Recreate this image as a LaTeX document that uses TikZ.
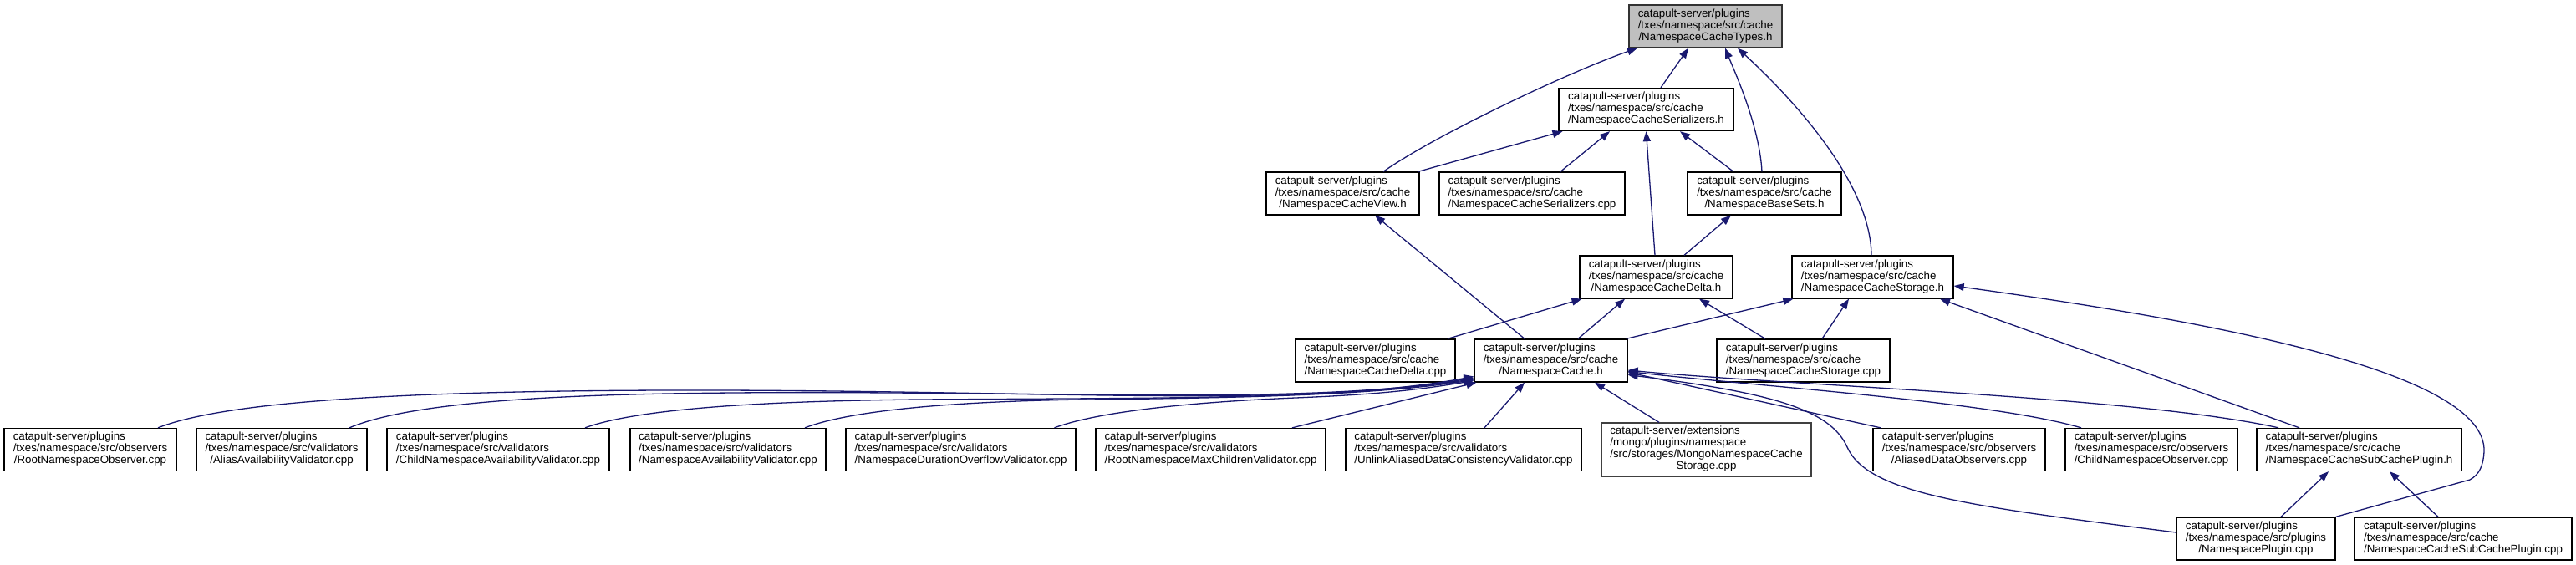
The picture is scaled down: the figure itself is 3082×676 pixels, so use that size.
\documentclass[tikz,border=0pt]{standalone}
\usepackage{fontspec}
\setmainfont{Liberation Sans}
\usetikzlibrary{arrows.meta}
\definecolor{edgeblue}{HTML}{191970}
\definecolor{rootfill}{HTML}{BFBFBF}
\newcommand{\lbthree}[3]{\begin{tabular}{@{}l@{}}#1\\#2\\\multicolumn{1}{@{}c@{}}{#3}\end{tabular}}
\newcommand{\lbfour}[4]{\begin{tabular}{@{}l@{}}#1\\#2\\#3\\\multicolumn{1}{@{}c@{}}{#4}\end{tabular}}
\tikzset{
  box/.style={draw=black, line width=1.3pt, fill=white, inner sep=0pt, minimum height=51pt,
    font={\fontsize{13.33}{14}\selectfont}},
  rootbox/.style={box, fill=rootfill, draw=black!80},
  dep/.style={draw=edgeblue, line width=1.3pt, arrows={Triangle[length=12pt,width=9pt]-}},
}
\begin{document}
\begin{tikzpicture}[x=1pt,y=-1pt]
\useasboundingbox (0,0) rectangle (3082,676);
% row 0
\node[rootbox, minimum width=183pt] (types) at (2040.5,31.5) {\lbthree{catapult-server/plugins}{/txes/namespace/src/cache}{/NamespaceCacheTypes.h}};
% row 1
\node[box, minimum width=209pt] (serh) at (1969.5,131) {\lbthree{catapult-server/plugins}{/txes/namespace/src/cache}{/NamespaceCacheSerializers.h}};
% row 2
\node[box, minimum width=183pt] (view) at (1606.5,231.5) {\lbthree{catapult-server/plugins}{/txes/namespace/src/cache}{/NamespaceCacheView.h}};
\node[box, minimum width=222pt] (sercpp) at (1833,231.5) {\lbthree{catapult-server/plugins}{/txes/namespace/src/cache}{/NamespaceCacheSerializers.cpp}};
\node[box, minimum width=184pt] (basesets) at (2111,231.5) {\lbthree{catapult-server/plugins}{/txes/namespace/src/cache}{/NamespaceBaseSets.h}};
% row 3
\node[box, minimum width=183pt] (deltah) at (1981.5,331.5) {\lbthree{catapult-server/plugins}{/txes/namespace/src/cache}{/NamespaceCacheDelta.h}};
\node[box, minimum width=193pt] (storageh) at (2240.5,331.5) {\lbthree{catapult-server/plugins}{/txes/namespace/src/cache}{/NamespaceCacheStorage.h}};
% row 4
\node[box, minimum width=191pt] (deltacpp) at (1645.5,431.5) {\lbthree{catapult-server/plugins}{/txes/namespace/src/cache}{/NamespaceCacheDelta.cpp}};
\node[box, minimum width=183pt] (cacheh) at (1855.5,431.5) {\lbthree{catapult-server/plugins}{/txes/namespace/src/cache}{/NamespaceCache.h}};
\node[box, minimum width=207pt] (storagecpp) at (2157.5,431.5) {\lbthree{catapult-server/plugins}{/txes/namespace/src/cache}{/NamespaceCacheStorage.cpp}};
% row 5
\node[box, minimum width=206pt] (rootobs) at (108,538) {\lbthree{catapult-server/plugins}{/txes/namespace/src/observers}{/RootNamespaceObserver.cpp}};
\node[box, minimum width=204pt] (aliasval) at (337,538) {\lbthree{catapult-server/plugins}{/txes/namespace/src/validators}{/AliasAvailabilityValidator.cpp}};
\node[box, minimum width=266pt] (childval) at (596,538) {\lbthree{catapult-server/plugins}{/txes/namespace/src/validators}{/ChildNamespaceAvailabilityValidator.cpp}};
\node[box, minimum width=234pt] (nsval) at (871,538) {\lbthree{catapult-server/plugins}{/txes/namespace/src/validators}{/NamespaceAvailabilityValidator.cpp}};
\node[box, minimum width=275pt] (durval) at (1149.5,538) {\lbthree{catapult-server/plugins}{/txes/namespace/src/validators}{/NamespaceDurationOverflowValidator.cpp}};
\node[box, minimum width=275pt] (maxchild) at (1448.5,538) {\lbthree{catapult-server/plugins}{/txes/namespace/src/validators}{/RootNamespaceMaxChildrenValidator.cpp}};
\node[box, minimum width=282pt] (unlink) at (1751,538) {\lbthree{catapult-server/plugins}{/txes/namespace/src/validators}{/UnlinkAliasedDataConsistencyValidator.cpp}};
\node[box, minimum width=251pt, minimum height=64pt, draw=black!75] (mongo) at (2041.5,538) {\lbfour{catapult-server/extensions}{/mongo/plugins/namespace}{/src/storages/MongoNamespaceCache}{Storage.cpp}};
\node[box, minimum width=206pt] (aliasedobs) at (2344,538) {\lbthree{catapult-server/plugins}{/txes/namespace/src/observers}{/AliasedDataObservers.cpp}};
\node[box, minimum width=206pt] (childobs) at (2574,538) {\lbthree{catapult-server/plugins}{/txes/namespace/src/observers}{/ChildNamespaceObserver.cpp}};
\node[box, minimum width=245pt] (subh) at (2822.5,538) {\lbthree{catapult-server/plugins}{/txes/namespace/src/cache}{/NamespaceCacheSubCachePlugin.h}};
% row 6
\node[box, minimum width=190pt] (plugincpp) at (2699,644.5) {\lbthree{catapult-server/plugins}{/txes/namespace/src/plugins}{/NamespacePlugin.cpp}};
\node[box, minimum width=260pt] (subcpp) at (2947,644.5) {\lbthree{catapult-server/plugins}{/txes/namespace/src/cache}{/NamespaceCacheSubCachePlugin.cpp}};

% edges into types
\draw[dep] ([xshift=-20.5pt]types.south) -- ([xshift=17.5pt]serh.north);
\draw[dep] ([xshift=-81.5pt]types.south) .. controls (1880,85) and (1720,160) .. ([xshift=48.5pt]view.north);
\draw[dep] ([xshift=23.5pt]types.south) .. controls (2075,85) and (2105,150) .. ([xshift=-3pt]basesets.north);
\draw[dep] ([xshift=38.5pt]types.south) .. controls (2125,100) and (2238,210) .. ([xshift=-1.5pt]storageh.north);
% edges into serializers.h
\draw[dep] ([xshift=-100pt]serh.south) -- ([xshift=-2pt]view.north east);
\draw[dep] ([xshift=-43.5pt]serh.south) -- ([xshift=34pt]sercpp.north);
\draw[dep] (serh.south) -- ([xshift=-1.5pt]deltah.north);
\draw[dep] ([xshift=40.5pt]serh.south) -- ([xshift=-37pt]basesets.north);
% other middle edges
\draw[dep] ([xshift=38.5pt]view.south) -- ([xshift=-31.5pt]cacheh.north);
\draw[dep] ([xshift=-40pt]basesets.south) -- ([xshift=33.5pt]deltah.north);
\draw[dep] ([xshift=-89pt]deltah.south) -- ([xshift=86.5pt]deltacpp.north);
\draw[dep] ([xshift=-37.5pt]deltah.south) -- ([xshift=32.5pt]cacheh.north);
\draw[dep] ([xshift=51.5pt]deltah.south) -- ([xshift=-45.5pt]storagecpp.north);
\draw[dep] ([xshift=2pt]storageh.south west) -- ([xshift=-2pt]cacheh.north east);
\draw[dep] ([xshift=-28.5pt]storageh.south) -- ([xshift=22.5pt]storagecpp.north);
\draw[dep] ([xshift=80.5pt]storageh.south) -- ([xshift=-71.5pt]subh.north);
\draw[dep] ([yshift=-10.5pt]storageh.east) .. controls (2650,385) and (2975,445) .. (2972,540) .. controls (2971,558) and (2966,568) .. (2955,574) -- (plugincpp.north east);
% edges into cache.h from the left
\draw[dep] ([yshift=-19pt]cacheh.west) .. controls (1550,490) and (1250,466) .. (800,467) .. controls (400,468) and (250,488) .. ([xshift=81pt]rootobs.north);
\draw[dep] ([yshift=-20.5pt]cacheh.west) .. controls (1550,488) and (1200,464) .. (800,471) .. controls (580,475) and (470,490) .. ([xshift=81pt]aliasval.north);
\draw[dep] ([yshift=-22pt]cacheh.west) .. controls (1600,478) and (1400,476) .. (1100,478) .. controls (900,480) and (760,490) .. ([xshift=104pt]childval.north);
\draw[dep] ([yshift=-23pt]cacheh.west) .. controls (1650,472) and (1500,476) .. (1300,478) .. controls (1150,480) and (1020,490) .. ([xshift=92pt]nsval.north);
\draw[dep] ([yshift=-24pt]cacheh.west) .. controls (1700,466) and (1650,472) .. (1550,476) .. controls (1450,480) and (1320,490) .. ([xshift=112pt]durval.north);
\draw[dep] ([xshift=3pt]cacheh.south west) -- ([xshift=97.5pt]maxchild.north);
% edges into cache.h from below
\draw[dep] ([xshift=-31.5pt]cacheh.south) -- ([xshift=25pt]unlink.north);
\draw[dep] ([xshift=52.5pt]cacheh.south) -- ([xshift=-56.5pt]mongo.north);
% edges into cache.h from the right
\draw[dep] ([yshift=-14pt]cacheh.east) -- ([xshift=-94pt]aliasedobs.north);
\draw[dep] ([yshift=-13pt]cacheh.east) .. controls (2100,462) and (2380,480) .. ([xshift=-84pt]childobs.north);
\draw[dep] ([yshift=-11.5pt]cacheh.east) .. controls (2150,462) and (2560,475) .. ([xshift=-96.5pt]subh.north);
\draw[dep] ([yshift=-17pt]cacheh.east) .. controls (2120,470) and (2190,490) .. (2210,535) .. controls (2235,590) and (2350,605) .. ([yshift=7.5pt]plugincpp.west);
% edges into subcache plugin header
\draw[dep] ([xshift=-36.5pt]subh.south) -- ([xshift=30pt]plugincpp.north);
\draw[dep] ([xshift=36.5pt]subh.south) -- ([xshift=-30pt]subcpp.north);
\end{tikzpicture}
\end{document}
